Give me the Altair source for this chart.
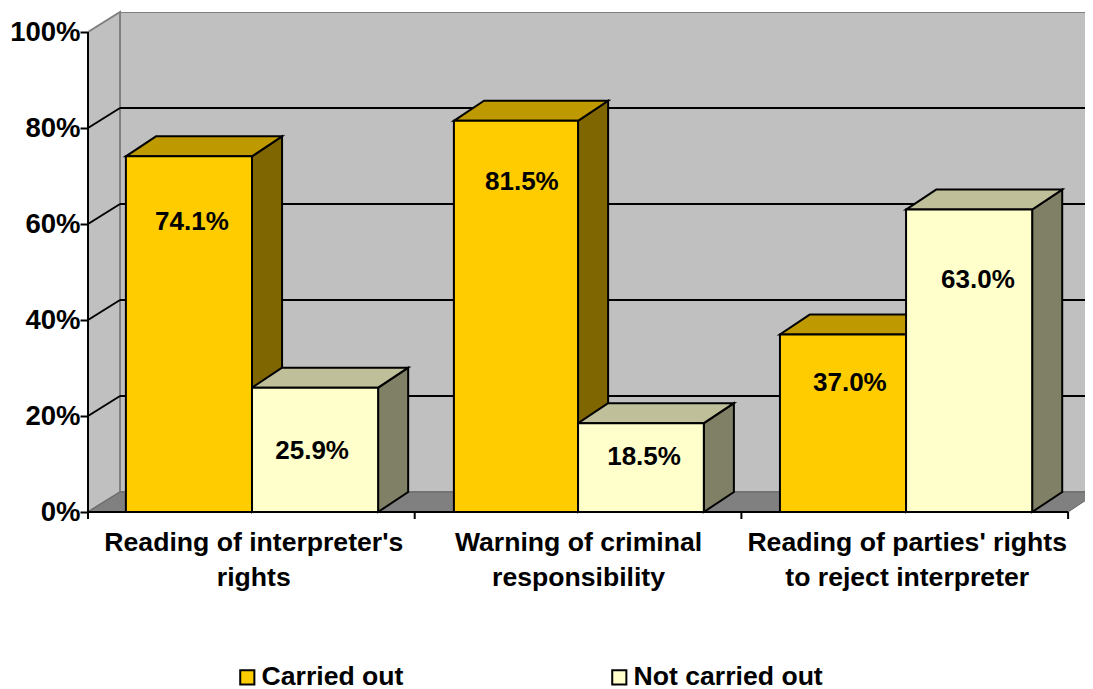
import json
import altair as alt
import pandas as pd

categories = ["Reading of interpreter's|rights", "Warning of criminal|responsibility",
              "Reading of parties' rights|to reject interpreter"]
series = ["Carried out", "Not carried out"]
carried = [74.1, 81.5, 37.0]
not_carried = [25.9, 18.5, 63.0]
# label anchor heights and x centres
label_h = [[60.4, 68.8, 26.8], [12.7, 11.5, 48.3]]
label_x = [[0.318, 1.328, 2.332], [0.686, 1.702, 2.724]]
bar_edges = [[[0.116, 0.502], [1.12, 1.50], [2.118, 2.504]],
             [[0.502, 0.888], [1.50, 1.885], [2.504, 2.89]]]
gridlines = [20, 40, 60, 80]
y_ticks = [0, 20, 40, 60, 80, 100]
x_ticks = [0, 1, 2, 3]
x_label_pos = [0.506, 1.5, 2.506]

front_colors = ["#FFCC00", "#FFFFCC"]
top_colors = ["#BF9900", "#BFBF99"]
side_colors = ["#806600", "#808066"]
WALL = "#C0C0C0"
FLOOR = "#808080"
FONT = "Liberation Sans"
FS = 26
FS_WIDE = 26.6
FS_Y = 27.5

DX, DY = 0.092, 4.17     # depth of the bars in data units
WALL_DX = 0.098          # depth of the walls and floor
PLOT_W, PLOT_H = 997, 500
XMAX, YMAX = PLOT_W / 326.7, PLOT_H / 4.8

x_scale = alt.Scale(domain=[0, XMAX], nice=False, zero=False)
y_scale = alt.Scale(domain=[0, YMAX], nice=False, zero=False)
X = lambda f: alt.X(f, type="quantitative", scale=x_scale, axis=None, stack=None)
Y = lambda f: alt.Y(f, type="quantitative", scale=y_scale, axis=None, stack=None)

values = [carried, not_carried]


def side_layer(i):
    rows = []
    for c, (a, b) in enumerate(bar_edges[i]):
        v = values[i][c]
        rows += [dict(id=c, x=b, y=v, y2=0), dict(id=c, x=b + DX, y=v + DY, y2=DY)]
    return alt.Chart(pd.DataFrame(rows)).mark_area(
        orient="vertical", color=side_colors[i], stroke="black", strokeWidth=2, opacity=1
    ).encode(x=X("x"), y=Y("y"), y2="y2", detail="id:N")


def top_layer(i):
    rows = []
    for c, (a, b) in enumerate(bar_edges[i]):
        v = values[i][c]
        rows += [dict(id=c, y=v, x=a, x2=b), dict(id=c, y=v + DY, x=a + DX, x2=b + DX)]
    return alt.Chart(pd.DataFrame(rows)).mark_area(
        orient="horizontal", color=top_colors[i], stroke="black", strokeWidth=2, opacity=1
    ).encode(y=Y("y"), x=X("x"), x2="x2", detail="id:N")


# walls and floor
back_wall = alt.Chart(pd.DataFrame([dict(x=WALL_DX, x2=XMAX + DX, y=DY, y2=YMAX)])).mark_rect(
    color=WALL, clip=True, stroke="#808080", strokeWidth=2
).encode(x=X("x"), x2="x2", y=Y("y"), y2="y2")
left_wall = alt.Chart(pd.DataFrame([dict(x=0, y=0, y2=100), dict(x=WALL_DX, y=DY, y2=100 + DY)])).mark_area(
    orient="vertical", color=WALL, stroke="#808080", strokeWidth=2, opacity=1
).encode(x=X("x"), y=Y("y"), y2="y2")
floor = alt.Chart(pd.DataFrame([dict(y=0, x=0, x2=3), dict(y=DY, x=WALL_DX, x2=3 + DX)])).mark_area(
    orient="horizontal", color=FLOOR, stroke="#666666", strokeWidth=1, opacity=1, clip=True
).encode(y=Y("y"), x=X("x"), x2="x2")

grid_back = alt.Chart(pd.DataFrame([dict(g=g + DY, x=WALL_DX, x2=XMAX) for g in gridlines])).mark_rule(
    color="black", strokeWidth=2
).encode(y=Y("g"), x=X("x"), x2="x2")
grid_side_rows = []
for g in gridlines:
    grid_side_rows += [dict(g=g, x=0, y=g), dict(g=g, x=WALL_DX, y=g + DY)]
grid_side = alt.Chart(pd.DataFrame(grid_side_rows)).mark_line(color="black", strokeWidth=2).encode(
    x=X("x"), y=Y("y"), detail="g:N"
)

# front faces with the legend
front_rows = []
for i, s in enumerate(series):
    for c, (a, b) in enumerate(bar_edges[i]):
        front_rows.append(dict(series=s, x=a, x2=b, v=values[i][c]))
fronts = alt.Chart(pd.DataFrame(front_rows)).mark_rect(stroke="black", strokeWidth=2).encode(
    x=X("x"), x2="x2", y=Y("v"), y2=alt.Y2(datum=0),
    fill=alt.Fill("series:N", scale=alt.Scale(domain=series, range=front_colors),
                  legend=alt.Legend(title=None, orient="none", legendX=146, legendY=652,
                                    columns=2, columnPadding=202, symbolType="square",
                                    symbolSize=200, symbolStrokeWidth=2, symbolStrokeColor="black",
                                    labelFont=FONT, labelFontSize=FS_WIDE, labelFontWeight="bold",
                                    labelColor="black", labelOffset=1, labelLimit=300,
                                    symbolOpacity=1)),
)

# data labels
lab_rows = []
for i in range(2):
    for c in range(3):
        lab_rows.append(dict(x=label_x[i][c], h=label_h[i][c], t=f"{values[i][c]:.1f}%"))
labels = alt.Chart(pd.DataFrame(lab_rows)).mark_text(
    font=FONT, fontSize=FS, fontWeight="bold", color="black"
).encode(x=X("x"), y=Y("h"), text="t:N")

# axes
label_js = json.dumps(categories)
x_axis = alt.Axis(title=None, values=x_label_pos, ticks=False, domain=False, grid=False,
                  labelExpr=f"split({label_js}[floor(datum.value)], '|')",
                  labelFont=FONT, labelFontSize=FS_WIDE, labelFontWeight="bold", labelColor="black",
                  labelPadding=17, labelLineHeight=35, labelFlush=False, labelOverlap=False, labelLimit=500)
y_axis = alt.Axis(title=None, values=y_ticks, labelExpr="datum.value + '%'", domain=False, grid=False,
                  tickColor="black", tickWidth=2, tickSize=8, labelPadding=0,
                  labelFont=FONT, labelFontSize=FS_Y, labelFontWeight="bold", labelColor="black")
axes = alt.Chart(pd.DataFrame({"x": x_ticks, "y": [0, 0, 0, 0]})).mark_point(opacity=0).encode(
    x=alt.X("x:Q", scale=x_scale, axis=x_axis), y=alt.Y("y:Q", scale=y_scale, axis=y_axis)
)
x_tick_marks = alt.Chart(pd.DataFrame({"x": x_ticks})).mark_rule(
    color="black", strokeWidth=2, clip=False
).encode(x=X("x"), y=alt.value(500), y2=alt.value(507))
y_line = alt.Chart(pd.DataFrame([dict(x=0, y=0, y2=100)])).mark_rule(color="black", strokeWidth=2).encode(
    x=X("x"), y=Y("y"), y2="y2"
)
x_line = alt.Chart(pd.DataFrame([dict(y=0, x=0, x2=3)])).mark_rule(color="black", strokeWidth=2).encode(
    y=Y("y"), x=X("x"), x2="x2"
)

chart = alt.layer(
    back_wall, left_wall, floor, grid_back, grid_side,
    side_layer(0), top_layer(0), side_layer(1), top_layer(1), fronts,
    x_line, y_line, x_tick_marks, labels, axes,
).resolve_axis(x="independent", y="independent").properties(
    width=PLOT_W, height=PLOT_H,
    autosize=alt.AutoSizeParams(type="none"),
    padding={"left": 80, "top": 4, "right": 0, "bottom": 177},
    background="white",
).configure_view(stroke=None)

chart.save("out.html", embed_options={"renderer": "svg", "actions": False})
